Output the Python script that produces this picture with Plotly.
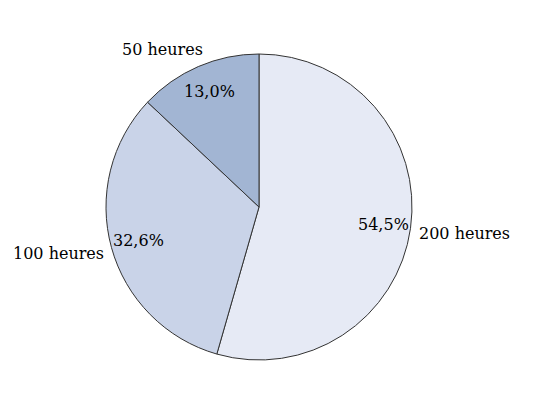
import math
import plotly.graph_objects as go

categories = ["200 heures", "100 heures", "50 heures"]
values = [54.5, 32.6, 13.0]
pct_labels = ["54,5%", "32,6%", "13,0%"]
colors = ["#E6EAF5", "#C9D3E8", "#A2B5D3"]

W, H = 534, 395
cx, cy, R = 251, 199, 153  # pie centre / radius in figure pixels (page adds 8px body margin)

fig = go.Figure(go.Pie(
    labels=categories, values=values, sort=False, direction="clockwise",
    rotation=0, textinfo="none", hoverinfo="label+percent",
    marker=dict(colors=colors, line=dict(color="#333333", width=1)),
    domain=dict(x=[(cx - R) / W, (cx + R) / W], y=[1 - (cy + R) / H, 1 - (cy - R) / H]),
    showlegend=False,
))

font = dict(family="DejaVu Serif", size=16, color="#000000")
total = sum(values)
cum = 0
for cat, v, pl in zip(categories, values, pct_labels):
    mid = (cum + v / 2) / total * 2 * math.pi
    cum += v
    s, c = math.sin(mid), math.cos(mid)
    # percentage inside near the edge
    r_in = 0.82 * R
    fig.add_annotation(x=(cx + r_in * s) / W, y=1 - (cy - r_in * c) / H, xref="paper", yref="paper",
                       text=pl, showarrow=False, font=font, xanchor="center", yanchor="middle")
    # category outside
    r_out = 1.04 * R
    xa = "left" if s > 0 else "right"
    if c > 0.8:
        ya, xs, ys = "bottom", 9, 0
    elif c < -0.8:
        ya, xs, ys = "top", 0, 0
    else:
        ya, xs, ys = "middle", 0, -4
    fig.add_annotation(x=(cx + r_out * s) / W, y=1 - (cy - r_out * c) / H, xref="paper", yref="paper",
                       text=cat, showarrow=False, font=font, xanchor=xa, yanchor=ya,
                       xshift=xs, yshift=ys)

fig.update_layout(width=W, height=H, margin=dict(l=0, r=0, t=0, b=0),
                  paper_bgcolor="white", plot_bgcolor="white")
fig.write_html("out.html")
